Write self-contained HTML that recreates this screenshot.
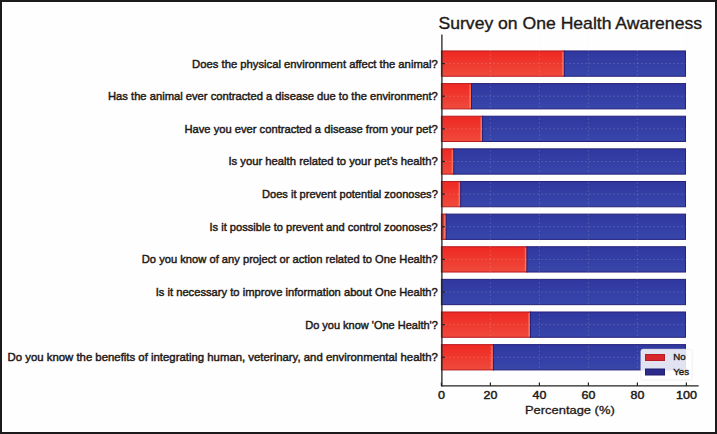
<!DOCTYPE html>
<html><head><meta charset="utf-8"><style>
html,body{margin:0;padding:0;background:#fff;}
body{width:717px;height:434px;overflow:hidden;position:relative;}
.frame{position:absolute;left:0;top:0;width:713px;height:430px;border:2px solid #1c1a1a;background:#fefefe;}
svg{position:absolute;left:0;top:0;}
text{font-family:"Liberation Sans",sans-serif;fill:#1e1a18;stroke:#1e1a18;stroke-width:0.45px;}
</style></head><body>
<div class="frame"></div>
<svg width="717" height="434" viewBox="0 0 717 434">
<defs><linearGradient id="gr" x1="0" y1="0" x2="0" y2="1"><stop offset="0" stop-color="#ee2822"/><stop offset="1" stop-color="#f04a3c"/></linearGradient>
<linearGradient id="gb" x1="0" y1="0" x2="0" y2="1"><stop offset="0" stop-color="#3038a0"/><stop offset="1" stop-color="#3846aa"/></linearGradient></defs><rect x="441.40" y="50.95" width="122.90" height="25.30" fill="url(#gr)" stroke="#b81c20" stroke-width="1"/>
<rect x="564.30" y="50.95" width="121.20" height="25.30" fill="url(#gb)" stroke="#25207a" stroke-width="1"/>
<rect x="562.10" y="51.95" width="1.6" height="23.30" fill="#ff9a80" fill-opacity="0.55"/>
<rect x="441.40" y="83.58" width="30.10" height="25.30" fill="url(#gr)" stroke="#b81c20" stroke-width="1"/>
<rect x="471.50" y="83.58" width="214.00" height="25.30" fill="url(#gb)" stroke="#25207a" stroke-width="1"/>
<rect x="469.30" y="84.58" width="1.6" height="23.30" fill="#ff9a80" fill-opacity="0.55"/>
<rect x="441.40" y="116.21" width="41.20" height="25.30" fill="url(#gr)" stroke="#b81c20" stroke-width="1"/>
<rect x="482.60" y="116.21" width="202.90" height="25.30" fill="url(#gb)" stroke="#25207a" stroke-width="1"/>
<rect x="480.40" y="117.21" width="1.6" height="23.30" fill="#ff9a80" fill-opacity="0.55"/>
<rect x="441.40" y="148.84" width="12.40" height="25.30" fill="url(#gr)" stroke="#b81c20" stroke-width="1"/>
<rect x="453.80" y="148.84" width="231.70" height="25.30" fill="url(#gb)" stroke="#25207a" stroke-width="1"/>
<rect x="451.60" y="149.84" width="1.6" height="23.30" fill="#ff9a80" fill-opacity="0.55"/>
<rect x="441.40" y="181.47" width="19.30" height="25.30" fill="url(#gr)" stroke="#b81c20" stroke-width="1"/>
<rect x="460.70" y="181.47" width="224.80" height="25.30" fill="url(#gb)" stroke="#25207a" stroke-width="1"/>
<rect x="458.50" y="182.47" width="1.6" height="23.30" fill="#ff9a80" fill-opacity="0.55"/>
<rect x="441.40" y="214.10" width="4.80" height="25.30" fill="url(#gr)" stroke="#b81c20" stroke-width="1"/>
<rect x="446.20" y="214.10" width="239.30" height="25.30" fill="url(#gb)" stroke="#25207a" stroke-width="1"/>
<rect x="444.00" y="215.10" width="1.6" height="23.30" fill="#ff9a80" fill-opacity="0.55"/>
<rect x="441.40" y="246.73" width="85.50" height="25.30" fill="url(#gr)" stroke="#b81c20" stroke-width="1"/>
<rect x="526.90" y="246.73" width="158.60" height="25.30" fill="url(#gb)" stroke="#25207a" stroke-width="1"/>
<rect x="524.70" y="247.73" width="1.6" height="23.30" fill="#ff9a80" fill-opacity="0.55"/>
<rect x="441.40" y="279.36" width="244.10" height="25.30" fill="url(#gb)" stroke="#25207a" stroke-width="1"/>
<rect x="441.40" y="311.99" width="89.10" height="25.30" fill="url(#gr)" stroke="#b81c20" stroke-width="1"/>
<rect x="530.50" y="311.99" width="155.00" height="25.30" fill="url(#gb)" stroke="#25207a" stroke-width="1"/>
<rect x="528.30" y="312.99" width="1.6" height="23.30" fill="#ff9a80" fill-opacity="0.55"/>
<rect x="441.40" y="344.62" width="52.00" height="25.30" fill="url(#gr)" stroke="#b81c20" stroke-width="1"/>
<rect x="493.40" y="344.62" width="192.10" height="25.30" fill="url(#gb)" stroke="#25207a" stroke-width="1"/>
<rect x="491.20" y="345.62" width="1.6" height="23.30" fill="#ff9a80" fill-opacity="0.55"/>
<line x1="490.40" y1="34.5" x2="490.40" y2="385.9" stroke="#e8e8e8" stroke-opacity="0.3" stroke-width="0.8" stroke-dasharray="1.2 2.8"/>
<line x1="539.40" y1="34.5" x2="539.40" y2="385.9" stroke="#e8e8e8" stroke-opacity="0.3" stroke-width="0.8" stroke-dasharray="1.2 2.8"/>
<line x1="588.40" y1="34.5" x2="588.40" y2="385.9" stroke="#e8e8e8" stroke-opacity="0.3" stroke-width="0.8" stroke-dasharray="1.2 2.8"/>
<line x1="637.40" y1="34.5" x2="637.40" y2="385.9" stroke="#e8e8e8" stroke-opacity="0.3" stroke-width="0.8" stroke-dasharray="1.2 2.8"/>
<line x1="686.40" y1="34.5" x2="686.40" y2="385.9" stroke="#e8e8e8" stroke-opacity="0.3" stroke-width="0.8" stroke-dasharray="1.2 2.8"/>
<line x1="441.4" y1="63.60" x2="698.65" y2="63.60" stroke="#e8e8e8" stroke-opacity="0.35" stroke-width="0.8" stroke-dasharray="1.2 2.8"/>
<line x1="441.4" y1="96.23" x2="698.65" y2="96.23" stroke="#e8e8e8" stroke-opacity="0.35" stroke-width="0.8" stroke-dasharray="1.2 2.8"/>
<line x1="441.4" y1="128.86" x2="698.65" y2="128.86" stroke="#e8e8e8" stroke-opacity="0.35" stroke-width="0.8" stroke-dasharray="1.2 2.8"/>
<line x1="441.4" y1="161.49" x2="698.65" y2="161.49" stroke="#e8e8e8" stroke-opacity="0.35" stroke-width="0.8" stroke-dasharray="1.2 2.8"/>
<line x1="441.4" y1="194.12" x2="698.65" y2="194.12" stroke="#e8e8e8" stroke-opacity="0.35" stroke-width="0.8" stroke-dasharray="1.2 2.8"/>
<line x1="441.4" y1="226.75" x2="698.65" y2="226.75" stroke="#e8e8e8" stroke-opacity="0.35" stroke-width="0.8" stroke-dasharray="1.2 2.8"/>
<line x1="441.4" y1="259.38" x2="698.65" y2="259.38" stroke="#e8e8e8" stroke-opacity="0.35" stroke-width="0.8" stroke-dasharray="1.2 2.8"/>
<line x1="441.4" y1="292.01" x2="698.65" y2="292.01" stroke="#e8e8e8" stroke-opacity="0.35" stroke-width="0.8" stroke-dasharray="1.2 2.8"/>
<line x1="441.4" y1="324.64" x2="698.65" y2="324.64" stroke="#e8e8e8" stroke-opacity="0.35" stroke-width="0.8" stroke-dasharray="1.2 2.8"/>
<line x1="441.4" y1="357.27" x2="698.65" y2="357.27" stroke="#e8e8e8" stroke-opacity="0.35" stroke-width="0.8" stroke-dasharray="1.2 2.8"/>
<line x1="441.90" y1="34.5" x2="441.90" y2="386.50" stroke="#222" stroke-width="1.3"/>
<line x1="441.40" y1="385.90" x2="698.65" y2="385.90" stroke="#222" stroke-width="1.3"/>
<line x1="441.40" y1="63.60" x2="444.90" y2="63.60" stroke="#222" stroke-width="1.2"/>
<line x1="441.40" y1="96.23" x2="444.90" y2="96.23" stroke="#222" stroke-width="1.2"/>
<line x1="441.40" y1="128.86" x2="444.90" y2="128.86" stroke="#222" stroke-width="1.2"/>
<line x1="441.40" y1="161.49" x2="444.90" y2="161.49" stroke="#222" stroke-width="1.2"/>
<line x1="441.40" y1="194.12" x2="444.90" y2="194.12" stroke="#222" stroke-width="1.2"/>
<line x1="441.40" y1="226.75" x2="444.90" y2="226.75" stroke="#222" stroke-width="1.2"/>
<line x1="441.40" y1="259.38" x2="444.90" y2="259.38" stroke="#222" stroke-width="1.2"/>
<line x1="441.40" y1="292.01" x2="444.90" y2="292.01" stroke="#222" stroke-width="1.2"/>
<line x1="441.40" y1="324.64" x2="444.90" y2="324.64" stroke="#222" stroke-width="1.2"/>
<line x1="441.40" y1="357.27" x2="444.90" y2="357.27" stroke="#222" stroke-width="1.2"/>
<line x1="441.40" y1="385.90" x2="441.40" y2="382.40" stroke="#222" stroke-width="1.2"/>
<line x1="490.40" y1="385.90" x2="490.40" y2="382.40" stroke="#222" stroke-width="1.2"/>
<line x1="539.40" y1="385.90" x2="539.40" y2="382.40" stroke="#222" stroke-width="1.2"/>
<line x1="588.40" y1="385.90" x2="588.40" y2="382.40" stroke="#222" stroke-width="1.2"/>
<line x1="637.40" y1="385.90" x2="637.40" y2="382.40" stroke="#222" stroke-width="1.2"/>
<line x1="686.40" y1="385.90" x2="686.40" y2="382.40" stroke="#222" stroke-width="1.2"/>
<text x="192.10" y="67.50" font-size="11.2" textLength="245.70" lengthAdjust="spacingAndGlyphs">Does the physical environment affect the animal?</text>
<text x="108.00" y="100.13" font-size="11.2" textLength="329.80" lengthAdjust="spacingAndGlyphs">Has the animal ever contracted a disease due to the environment?</text>
<text x="184.50" y="132.76" font-size="11.2" textLength="253.30" lengthAdjust="spacingAndGlyphs">Have you ever contracted a disease from your pet?</text>
<text x="228.40" y="165.39" font-size="11.2" textLength="209.40" lengthAdjust="spacingAndGlyphs">Is your health related to your pet&#39;s health?</text>
<text x="262.10" y="198.02" font-size="11.2" textLength="175.70" lengthAdjust="spacingAndGlyphs">Does it prevent potential zoonoses?</text>
<text x="209.50" y="230.65" font-size="11.2" textLength="228.30" lengthAdjust="spacingAndGlyphs">Is it possible to prevent and control zoonoses?</text>
<text x="141.80" y="263.28" font-size="11.2" textLength="296.00" lengthAdjust="spacingAndGlyphs">Do you know of any project or action related to One Health?</text>
<text x="155.70" y="295.91" font-size="11.2" textLength="282.10" lengthAdjust="spacingAndGlyphs">Is it necessary to improve information about One Health?</text>
<text x="305.20" y="328.54" font-size="11.2" textLength="132.60" lengthAdjust="spacingAndGlyphs">Do you know &#39;One Health&#39;?</text>
<text x="7.50" y="361.17" font-size="11.2" textLength="430.30" lengthAdjust="spacingAndGlyphs">Do you know the benefits of integrating human, veterinary, and environmental health?</text>
<text x="437.90" y="398.7" font-size="11" textLength="7.0" lengthAdjust="spacingAndGlyphs">0</text>
<text x="483.50" y="398.7" font-size="11" textLength="13.8" lengthAdjust="spacingAndGlyphs">20</text>
<text x="532.50" y="398.7" font-size="11" textLength="13.8" lengthAdjust="spacingAndGlyphs">40</text>
<text x="581.50" y="398.7" font-size="11" textLength="13.8" lengthAdjust="spacingAndGlyphs">60</text>
<text x="630.50" y="398.7" font-size="11" textLength="13.8" lengthAdjust="spacingAndGlyphs">80</text>
<text x="675.90" y="398.7" font-size="11" textLength="21.0" lengthAdjust="spacingAndGlyphs">100</text>
<text x="525.0" y="413.7" font-size="10.6" style="stroke-width:0.3px" textLength="89.7" lengthAdjust="spacingAndGlyphs">Percentage (%)</text>
<text x="438.5" y="28.6" font-size="16.2" style="stroke-width:0.35px" textLength="263.5" lengthAdjust="spacingAndGlyphs">Survey on One Health Awareness</text>
<rect x="641" y="349.3" width="51.2" height="30.7" rx="2" fill="#ffffff" fill-opacity="0.85" stroke="#ececec" stroke-width="0.8"/>
<rect x="645.5" y="354.5" width="19" height="6" fill="#d8262d" stroke="#b81c24" stroke-width="1"/>
<rect x="645.5" y="369" width="19" height="6" fill="#2c2a8a" stroke="#211d70" stroke-width="1"/>
<text x="673.3" y="360.3" font-size="9.7" style="stroke-width:0.4px">No</text>
<text x="673.3" y="375.0" font-size="9.7" style="stroke-width:0.4px">Yes</text>
</svg>
</body></html>
